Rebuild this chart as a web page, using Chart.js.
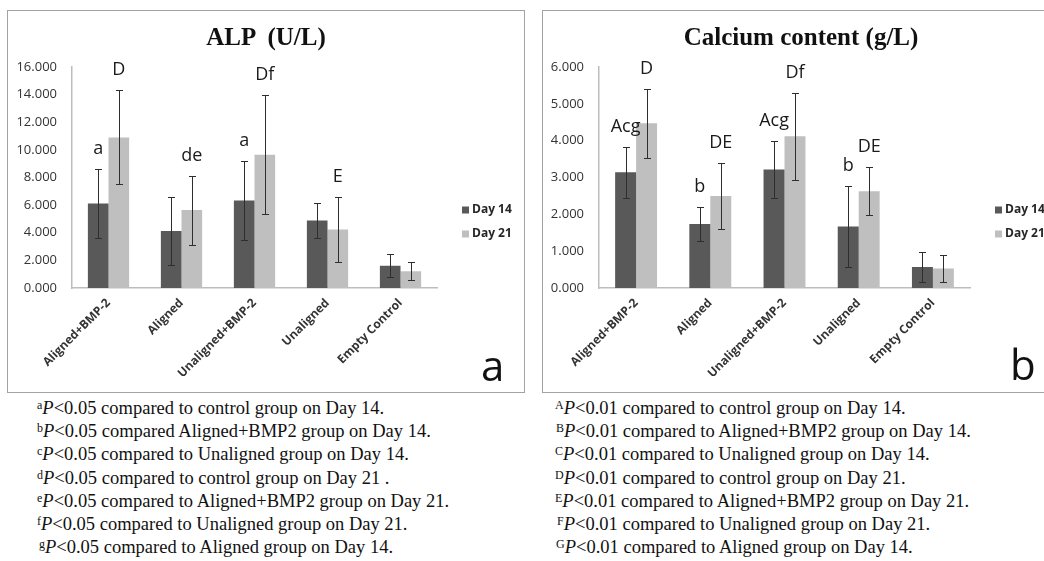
<!DOCTYPE html>
<html>
<head>
<meta charset="utf-8">
<script src="https://cdn.jsdelivr.net/npm/chart.js@4/dist/chart.umd.min.js"></script>
<style>
	html, body { margin: 0; padding: 0; background: #fff; width: 1044px; height: 561px; overflow: hidden; }
	.panel { position: absolute; top: 10px; width: 518px; height: 383px; border: 1px solid #a3a3a3; box-sizing: border-box; }
	.panel canvas { position: absolute; left: 0; top: 0; }
	.panel-title { position: absolute; left: 0; width: 100%; top: 13px; text-align: center; font-family: "Liberation Serif", serif; font-weight: bold; font-size: 25px; line-height: 25px; color: #111; white-space: pre; }
	.panel-tag { position: absolute; font-family: "Open Sans", sans-serif; font-size: 42px; line-height: 42px; color: #111; }
	.notes { position: absolute; top: 397px; font-family: "Liberation Serif", serif; font-size: 18.5px; line-height: 23.2px; color: #111; white-space: nowrap; }
	.notes sup { font-size: 12px; vertical-align: 5px; line-height: 0; }
</style>
</head>
<body>

<div class="panel" style="left:7px;">
	<canvas id="alp-chart" width="516" height="381"></canvas>
	<div class="panel-title">ALP  (U/L)</div>
	<div class="panel-tag" style="left:473px; top:333px;">a</div>
</div>

<div class="panel" style="left:542px;">
	<canvas id="calcium-chart" width="516" height="381"></canvas>
	<div class="panel-title">Calcium content (g/L)</div>
	<div class="panel-tag" style="left:467px; top:332px;">b</div>
</div>

<div class="notes" style="left:37px;">
	<div><sup>a</sup><i>P</i>&lt;0.05 compared to control group on Day 14.</div>
	<div><sup>b</sup><i>P</i>&lt;0.05 compared Aligned+BMP2 group on Day 14.</div>
	<div><sup>c</sup><i>P</i>&lt;0.05 compared to Unaligned group on Day 14.</div>
	<div><sup>d</sup><i>P</i>&lt;0.05 compared to control group on Day 21 .</div>
	<div><sup>e</sup><i>P</i>&lt;0.05 compared to Aligned+BMP2 group on Day 21.</div>
	<div><sup>f</sup><i>P</i>&lt;0.05 compared to Unaligned group on Day 21.</div>
	<div style="padding-left:2px;"><sup>g</sup><i>P</i>&lt;0.05 compared to Aligned group on Day 14.</div>
</div>

<div class="notes" style="left:555px;">
	<div><sup>A</sup><i>P</i>&lt;0.01 compared to control group on Day 14.</div>
	<div style="padding-left:1px;"><sup>B</sup><i>P</i>&lt;0.01 compared to Aligned+BMP2 group on Day 14.</div>
	<div><sup>C</sup><i>P</i>&lt;0.01 compared to Unaligned group on Day 14.</div>
	<div><sup>D</sup><i>P</i>&lt;0.01 compared to control group on Day 21.</div>
	<div><sup>E</sup><i>P</i>&lt;0.01 compared to Aligned+BMP2 group on Day 21.</div>
	<div style="padding-left:2px;"><sup>F</sup><i>P</i>&lt;0.01 compared to Unaligned group on Day 21.</div>
	<div style="padding-left:1px;"><sup>G</sup><i>P</i>&lt;0.01 compared to Aligned group on Day 14.</div>
</div>

<script>
const categories = ['Aligned+BMP-2', 'Aligned', 'Unaligned+BMP-2', 'Unaligned', 'Empty Control'];
const seriesLabels = ['Day 14', 'Day 21'];

// ALP (U/L)
const alpDay14 = [6.12, 4.13, 6.34, 4.89, 1.61];
const alpDay14Err = [2.53, 2.45, 2.85, 1.28, 0.83];
const alpDay21 = [10.90, 5.64, 9.65, 4.23, 1.21];
const alpDay21Err = [3.40, 2.50, 4.30, 2.34, 0.65];
const alpDay14Marks = ['a', '', 'a', '', ''];
const alpDay21Marks = ['D', 'de', 'Df', 'E', ''];
const alpTicks = [0, 2, 4, 6, 8, 10, 12, 14, 16];

// Calcium content (g/L)
const calDay14 = [3.14, 1.74, 3.22, 1.67, 0.57];
const calDay14Err = [0.69, 0.46, 0.78, 1.09, 0.42];
const calDay21 = [4.47, 2.50, 4.12, 2.63, 0.53];
const calDay21Err = [0.94, 0.90, 1.18, 0.65, 0.37];
const calDay14Marks = ['Acg', 'b', 'Acg', 'b', ''];
const calDay21Marks = ['D', 'DE', 'Df', 'DE', ''];
const calTicks = [0, 1, 2, 3, 4, 5, 6];

const dark = '#595959';
const light = '#bfbfbf';

Chart.defaults.font.family = "'Open Sans', sans-serif";

// error bars, significance letters and the legend on the right
const barExtras = {
	id: 'barExtras',
	afterDatasetsDraw(chart) {
		const ctx = chart.ctx;
		const y = chart.scales.y;
		const area = chart.chartArea;
		ctx.save();
		chart.data.datasets.forEach((ds, i) => {
			chart.getDatasetMeta(i).data.forEach((bar, j) => {
				let v = ds.data[j], e = ds.errors[j];
				let top = Math.round(y.getPixelForValue(v + e)) + 0.5;
				let bot = Math.round(y.getPixelForValue(v - e)) + 0.5;
				let x = Math.round(bar.x) + 0.5;
				ctx.strokeStyle = '#2e2e2e';
				ctx.lineWidth = 1;
				ctx.beginPath();
				ctx.moveTo(x, top); ctx.lineTo(x, bot);
				ctx.moveTo(x - 3.5, top); ctx.lineTo(x + 3.5, top);
				ctx.moveTo(x - 3.5, bot); ctx.lineTo(x + 3.5, bot);
				ctx.stroke();
				if (ds.marks[j]) {
					ctx.font = "18px 'Open Sans'";
					ctx.fillStyle = '#1a1a1a';
					ctx.textAlign = 'center';
					ctx.textBaseline = 'middle';
					ctx.fillText(ds.marks[j], bar.x, top - 21);
				}
			});
		});
		chart.data.datasets.forEach((ds, i) => {
			let cy = area.top + 143 + i * 24;
			ctx.fillStyle = ds.backgroundColor;
			ctx.fillRect(area.right + 25, cy - 3.5, 7, 7);
			ctx.font = "bold 12px 'Open Sans'";
			ctx.fillStyle = '#262626';
			ctx.textAlign = 'left';
			ctx.textBaseline = 'middle';
			ctx.fillText(ds.label, area.right + 35, cy);
		});
		ctx.restore();
	}
};

function drawPanel(canvasId, day14, err14, marks14, day21, err21, marks21, ticks, yWidth, padRight) {
	let ctx = document.getElementById(canvasId).getContext('2d');
	return new Chart(ctx, {
		type : 'bar',
		data : {
			labels : categories,
			datasets : [ {
				label : seriesLabels[0],
				data : day14,
				errors : err14,
				marks : marks14,
				backgroundColor : dark
			}, {
				label : seriesLabels[1],
				data : day21,
				errors : err21,
				marks : marks21,
				backgroundColor : light
			} ]
		},
		options : {
			responsive : false,
			animation : false,
			categoryPercentage : 0.565,
			barPercentage : 1.0,
			layout : { padding : { top : 56, left : 0, right : padRight, bottom : 0 } },
			plugins : {
				legend : { display : false },
				title : { display : false },
				tooltip : { enabled : false }
			},
			scales : {
				x : {
					grid : { display : false, drawTicks : false },
					border : { display : true, color : '#bdbdbd', width : 1.5 },
					ticks : {
						autoSkip : false,
						minRotation : 45,
						maxRotation : 45,
						padding : 8,
						color : '#333',
						font : { size : 12, weight : 'bold' }
					},
					afterFit : function(s) { s.height = 104; }
				},
				y : {
					min : ticks[0],
					max : ticks[ticks.length - 1],
					grid : { display : false, drawTicks : false },
					border : { display : true, color : '#bdbdbd', width : 1.5 },
					afterBuildTicks : function(s) { s.ticks = ticks.map(v => ({ value : v })); },
					ticks : {
						padding : 15,
						color : '#333',
						font : { size : 13 },
						callback : v => v.toFixed(3)
					},
					afterFit : function(s) { s.width = yWidth; }
				}
			}
		},
		plugins : [ barExtras ]
	});
}

drawPanel('alp-chart', alpDay14, alpDay14Err, alpDay14Marks, alpDay21, alpDay21Err, alpDay21Marks, alpTicks, 64, 87);
drawPanel('calcium-chart', calDay14, calDay14Err, calDay14Marks, calDay21, calDay21Err, calDay21Marks, calTicks, 56, 89);
</script>
</body>
</html>
